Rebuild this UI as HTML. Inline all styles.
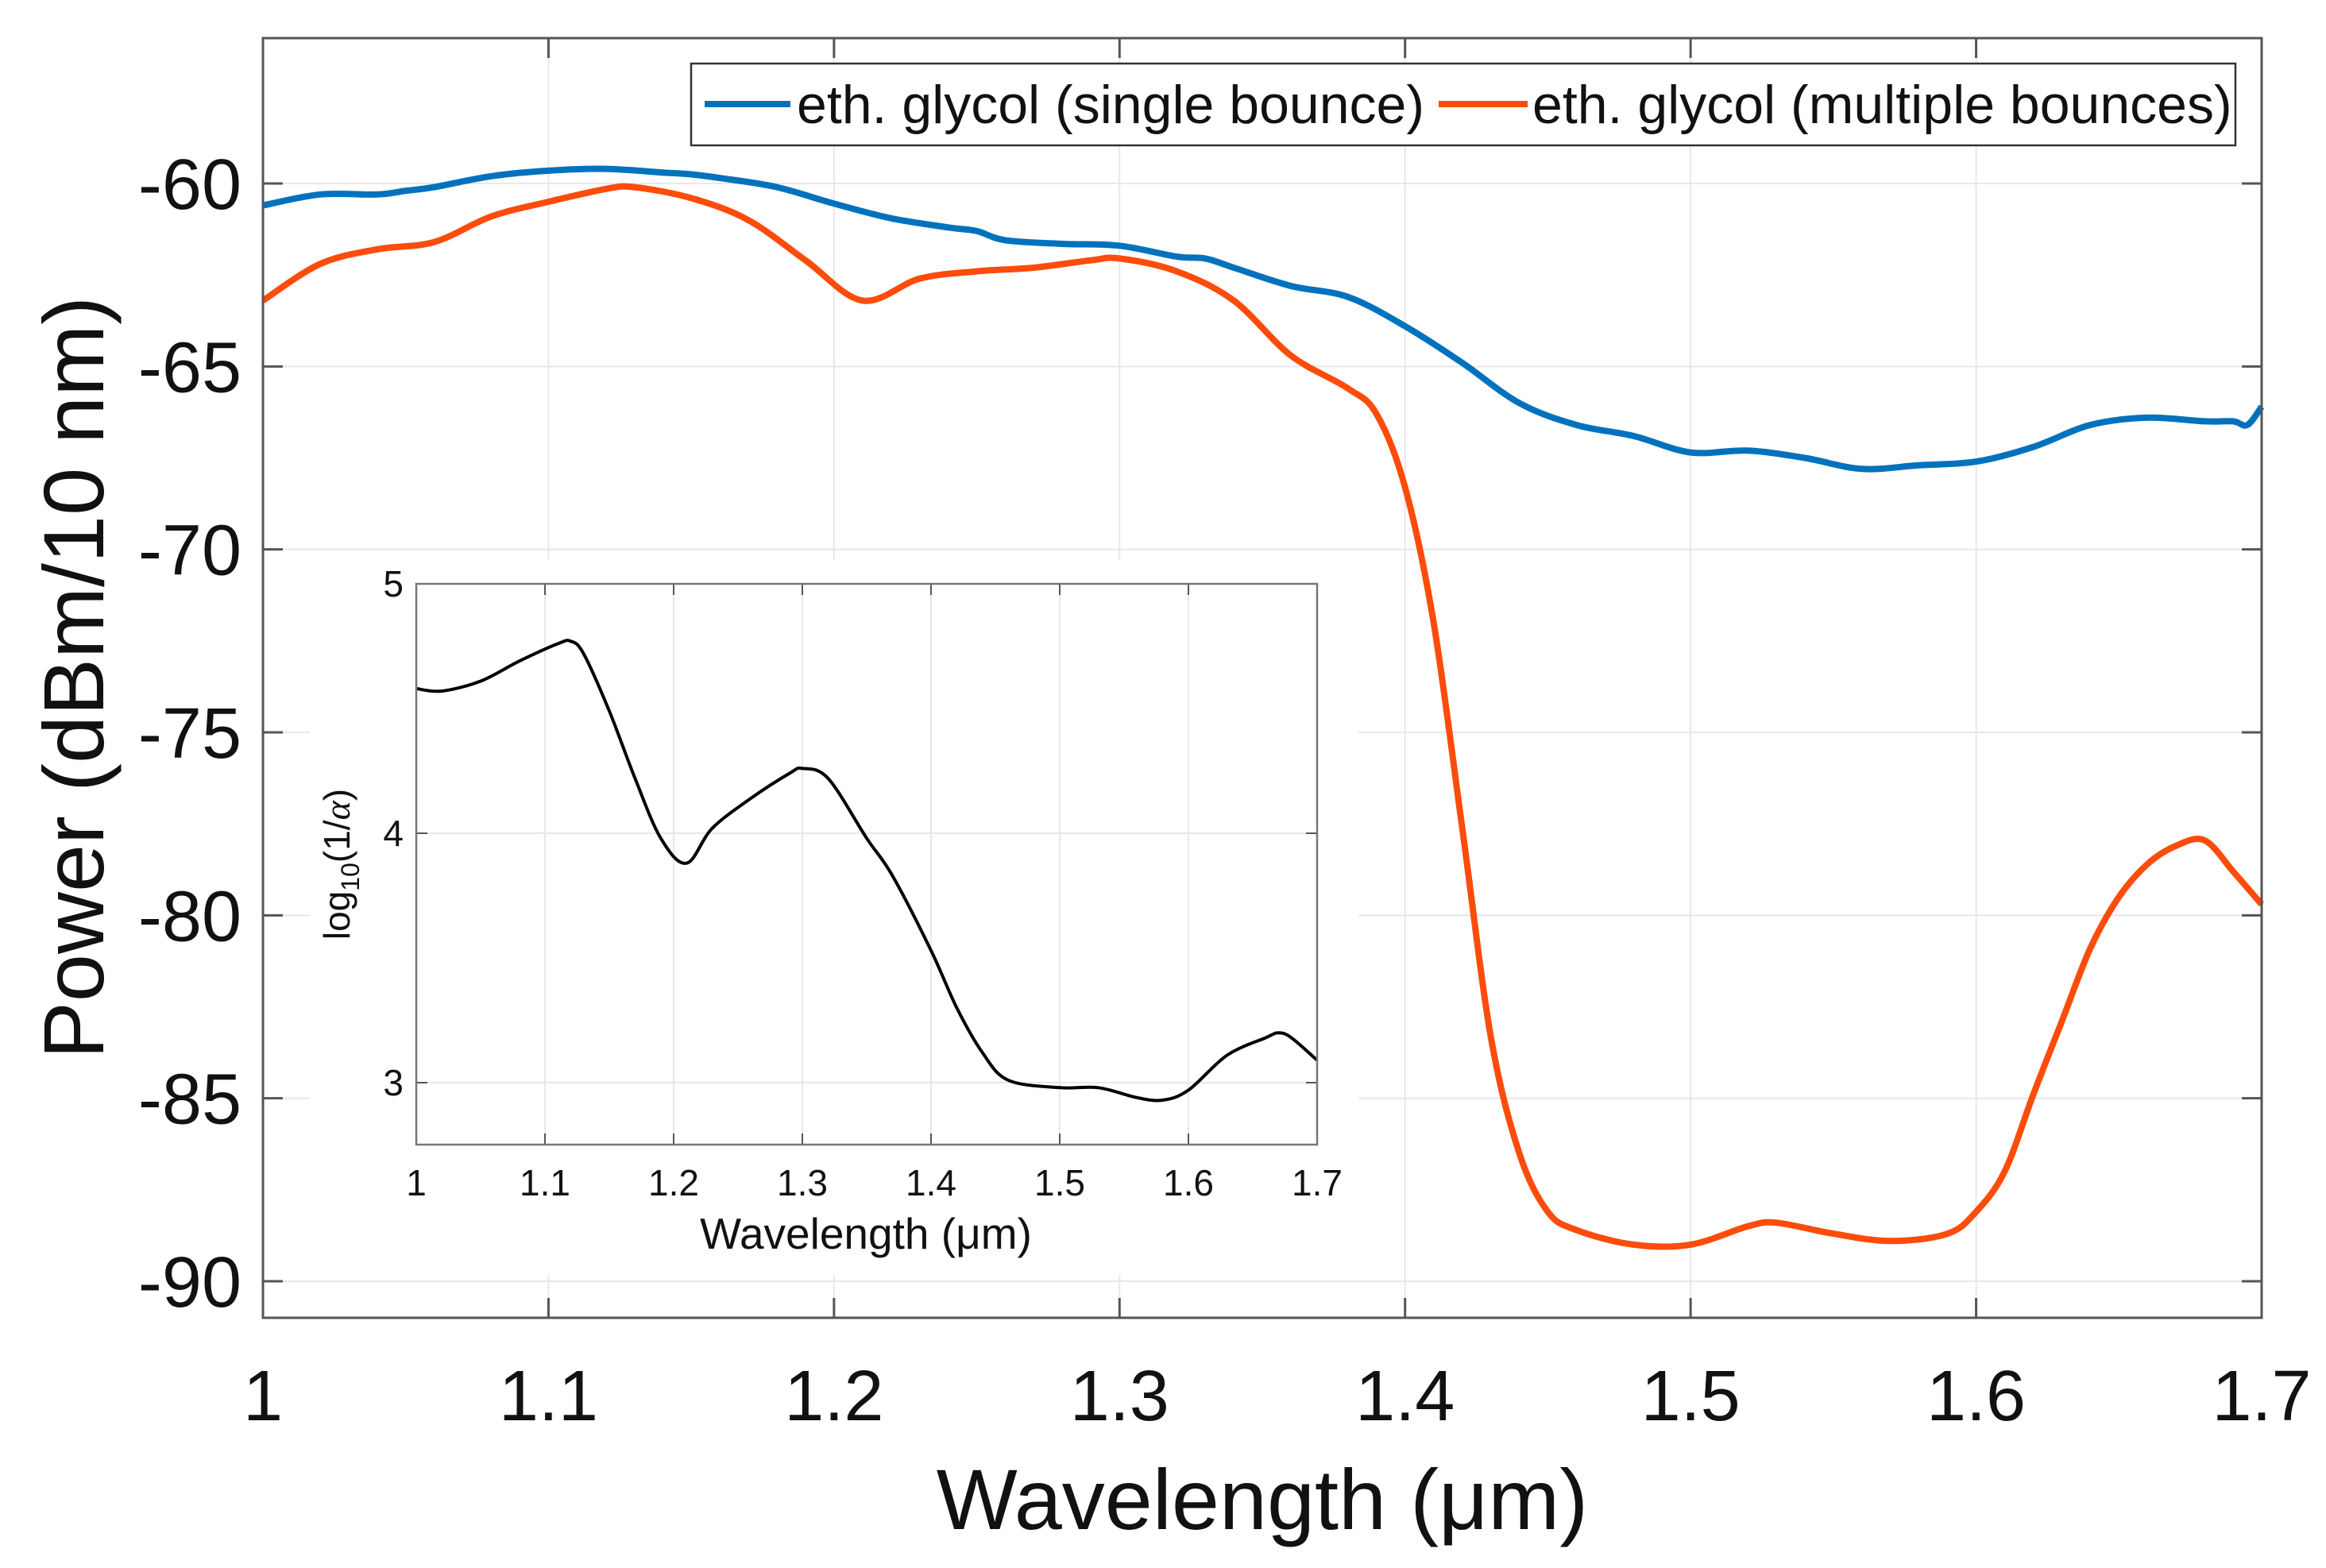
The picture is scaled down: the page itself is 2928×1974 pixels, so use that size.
<!DOCTYPE html>
<html><head><meta charset="utf-8"><style>
html,body{margin:0;padding:0;background:#fff;}
svg{display:block;font-family:"Liberation Sans",Arial,sans-serif;}
</style></head><body>
<svg id="chart" width="2928" height="1974" viewBox="0 0 2928 1974" xmlns="http://www.w3.org/2000/svg">
<g id="main"></g>
<g id="inset"></g>
<g id="legend"></g>
</svg>
<script>
const mainXTicks = [1, 1.1, 1.2, 1.3, 1.4, 1.5, 1.6, 1.7];
const mainXTickLabels = ["1","1.1","1.2","1.3","1.4","1.5","1.6","1.7"];
const mainYTicks = [-60, -65, -70, -75, -80, -85, -90];
const mainYTickLabels = ["-60","-65","-70","-75","-80","-85","-90"];
const singleX = [1.00,1.02,1.04,1.05,1.06,1.08,1.10,1.12,1.14,1.15,1.16,1.18,1.20,1.22,1.24,1.25,1.26,1.28,1.30,1.32,1.33,1.34,1.36,1.38,1.40,1.42,1.44,1.46,1.48,1.50,1.52,1.54,1.56,1.58,1.60,1.62,1.64,1.66,1.68,1.69,1.695,1.70];
const singleY = [-60.6,-60.3,-60.3,-60.2,-60.1,-59.8,-59.65,-59.6,-59.7,-59.75,-59.85,-60.1,-60.55,-60.95,-61.2,-61.3,-61.55,-61.65,-61.7,-62.0,-62.05,-62.3,-62.8,-63.1,-63.9,-64.9,-66.0,-66.6,-66.9,-67.35,-67.3,-67.5,-67.8,-67.7,-67.6,-67.2,-66.6,-66.4,-66.5,-66.5,-66.6,-66.1];
const multiX = [1.00,1.02,1.04,1.06,1.08,1.10,1.12,1.13,1.15,1.17,1.19,1.21,1.23,1.25,1.27,1.29,1.30,1.32,1.34,1.36,1.38,1.39,1.40,1.41,1.42,1.43,1.44,1.45,1.46,1.48,1.50,1.52,1.53,1.55,1.57,1.59,1.60,1.61,1.62,1.63,1.64,1.65,1.66,1.67,1.68,1.69,1.70];
const multiY = [-63.2,-62.2,-61.8,-61.6,-60.9,-60.5,-60.15,-60.1,-60.4,-61.0,-62.1,-63.2,-62.6,-62.4,-62.3,-62.1,-62.05,-62.4,-63.2,-64.7,-65.6,-66.3,-68.3,-72.0,-77.6,-83.3,-86.5,-88.1,-88.6,-89.0,-89.0,-88.5,-88.4,-88.7,-88.9,-88.7,-88.1,-87.0,-84.9,-82.9,-80.9,-79.5,-78.6,-78.1,-77.95,-78.8,-79.7];
const insetXTicks = [1, 1.1, 1.2, 1.3, 1.4, 1.5, 1.6, 1.7];
const insetXTickLabels = ["1","1.1","1.2","1.3","1.4","1.5","1.6","1.7"];
const insetYTicks = [3, 4, 5];
const insetYTickLabels = ["3","4","5"];
const insetX = [1.00,1.02,1.05,1.08,1.11,1.12,1.13,1.15,1.17,1.19,1.21,1.23,1.26,1.29,1.30,1.32,1.35,1.37,1.40,1.42,1.44,1.46,1.50,1.53,1.56,1.58,1.60,1.63,1.66,1.67,1.68,1.70];
const insetY = [4.58,4.57,4.61,4.69,4.76,4.77,4.72,4.49,4.22,3.98,3.88,4.02,4.14,4.24,4.26,4.22,3.98,3.83,3.53,3.30,3.12,3.01,2.98,2.98,2.94,2.93,2.97,3.11,3.18,3.20,3.18,3.09];

const NS = "http://www.w3.org/2000/svg";
function mk(parent, tag, attrs, text){
  const e = document.createElementNS(NS, tag);
  for (const k in attrs) e.setAttribute(k, attrs[k]);
  if (text !== undefined) e.textContent = text;
  parent.appendChild(e);
  return e;
}
function smooth(pts){
  let d = "M" + pts[0][0].toFixed(1) + "," + pts[0][1].toFixed(1);
  for (let i=0;i<pts.length-1;i++){
    const p0 = pts[Math.max(0,i-1)], p1 = pts[i], p2 = pts[i+1], p3 = pts[Math.min(pts.length-1,i+2)];
    const c1x = p1[0]+(p2[0]-p0[0])/6, c1y = p1[1]+(p2[1]-p0[1])/6;
    const c2x = p2[0]-(p3[0]-p1[0])/6, c2y = p2[1]-(p3[1]-p1[1])/6;
    d += " C"+c1x.toFixed(1)+","+c1y.toFixed(1)+" "+c2x.toFixed(1)+","+c2y.toFixed(1)+" "+p2[0].toFixed(1)+","+p2[1].toFixed(1);
  }
  return d;
}

const mL=331, mR=2847, mT=48, mB=1659;
const mx = v => mL + (v-1)/0.7*(mR-mL);
const my = v => 231 + (-60 - v)*(1613-231)/30;
const main = document.getElementById("main");
mainXTicks.forEach((t,i)=>{
  const x = mx(t);
  const g = mk(main,"line",{x1:x,x2:x,y1:mT,y2:mB,stroke:"#e8e8e8","stroke-width":2});
  
  
});
mainYTicks.forEach((t,i)=>{
  const y = my(t);
  const g = mk(main,"line",{x1:mL,x2:mR,y1:y,y2:y,stroke:"#e8e8e8","stroke-width":2});
  
  
});
mainXTicks.forEach((t,i)=>{
  const x = mx(t);
  const a = mk(main,"line",{x1:x,x2:x,y1:mB,y2:mB-25,stroke:"#555","stroke-width":3});
  
  
  const b = mk(main,"line",{x1:x,x2:x,y1:mT,y2:mT+25,stroke:"#555","stroke-width":3});
  
  
  const lab = mk(main,"text",{x:x,y:1788,"font-size":90,"text-anchor":"middle",fill:"#111"},mainXTickLabels[i]);
  
  
});
mainYTicks.forEach((t,i)=>{
  const y = my(t);
  const a = mk(main,"line",{x1:mL,x2:mL+25,y1:y,y2:y,stroke:"#555","stroke-width":3});
  
  
  const b = mk(main,"line",{x1:mR,x2:mR-25,y1:y,y2:y,stroke:"#555","stroke-width":3});
  
  
  const lab = mk(main,"text",{x:304,y:y+32,"font-size":90,"text-anchor":"end",fill:"#111"},mainYTickLabels[i]);
  
  
});
const xt = mk(main,"text",{x:1589,y:1925,"font-size":108,"text-anchor":"middle",fill:"#111"},"Wavelength (μm)");


const yt = mk(main,"text",{x:0,y:0,"font-size":108,"text-anchor":"middle",fill:"#111",transform:"translate(130,853) rotate(-90)"},"Power (dBm/10 nm)");



const ibg = mk(main,"rect",{x:390,y:705,width:1320,height:900,fill:"#fff"});



const s1 = mk(main,"path",{d:smooth(singleX.map((v,i)=>[mx(v),my(singleY[i])])),fill:"none",stroke:"#0072BD","stroke-width":8,"stroke-linejoin":"round"});


const s2 = mk(main,"path",{d:smooth(multiX.map((v,i)=>[mx(v),my(multiY[i])])),fill:"none",stroke:"#FC4C0C","stroke-width":8,"stroke-linejoin":"round"});



const frame = mk(main,"rect",{x:mL,y:mT,width:mR-mL,height:mB-mT,fill:"none",stroke:"#555","stroke-width":3});



const iL=524, iR=1658, iT=735, iB=1441;
const ix = v => iL + (v-1)/0.7*(iR-iL);
const iy = v => 735 + (5 - v)*314;
const inset = document.getElementById("inset");
insetXTicks.forEach((t,i)=>{
  const x = ix(t);
  const g = mk(inset,"line",{x1:x,x2:x,y1:iT,y2:iB,stroke:"#e8e8e8","stroke-width":2});
  
  
  const a = mk(inset,"line",{x1:x,x2:x,y1:iB,y2:iB-14,stroke:"#555","stroke-width":2});
  
  
  const b = mk(inset,"line",{x1:x,x2:x,y1:iT,y2:iT+14,stroke:"#555","stroke-width":2});
  
  
  const lab = mk(inset,"text",{x:x,y:1505,"font-size":46,"text-anchor":"middle",fill:"#111"},insetXTickLabels[i]);
  
  
});
insetYTicks.forEach((t,i)=>{
  const y = iy(t);
  const g = mk(inset,"line",{x1:iL,x2:iR,y1:y,y2:y,stroke:"#e8e8e8","stroke-width":2});
  
  
  const a = mk(inset,"line",{x1:iL,x2:iL+14,y1:y,y2:y,stroke:"#555","stroke-width":2});
  
  
  const b = mk(inset,"line",{x1:iR,x2:iR-14,y1:y,y2:y,stroke:"#555","stroke-width":2});
  
  
  const lab = mk(inset,"text",{x:508,y:y+16,"font-size":46,"text-anchor":"end",fill:"#111"},insetYTickLabels[i]);
  
  
});
const il = mk(inset,"path",{d:smooth(insetX.map((v,i)=>[ix(v),iy(insetY[i])])),fill:"none",stroke:"#000","stroke-width":4,"stroke-linejoin":"round"});


const iframe = mk(inset,"rect",{x:iL,y:iT,width:iR-iL,height:iB-iT,fill:"none",stroke:"#777","stroke-width":2.5});


const ixt = mk(inset,"text",{x:1090,y:1572,"font-size":55,"text-anchor":"middle",fill:"#111"},"Wavelength (μm)");


const iyt = mk(inset,"text",{x:0,y:0,"font-size":46,"text-anchor":"middle",fill:"#111",transform:"translate(440,1088) rotate(-90)"});


iyt.innerHTML = 'log<tspan font-size="32" dy="12">10</tspan><tspan dy="-12">(1/</tspan><tspan font-style="italic" font-family="Liberation Serif, serif">α</tspan>)';

const leg = document.getElementById("legend");
const lb = mk(leg,"rect",{x:870,y:80,width:1944,height:103,fill:"#fff",stroke:"#333","stroke-width":2.5});


const l1 = mk(leg,"line",{x1:887,x2:995,y1:131,y2:131,stroke:"#0072BD","stroke-width":8});


const t1 = mk(leg,"text",{x:1003,y:155,"font-size":68,fill:"#111"},"eth. glycol (single bounce)");


const l2 = mk(leg,"line",{x1:1811,x2:1923,y1:131,y2:131,stroke:"#FC4C0C","stroke-width":8});


const t2 = mk(leg,"text",{x:1929,y:155,"font-size":68,fill:"#111"},"eth. glycol (multiple bounces)");


</script>
</body></html>
